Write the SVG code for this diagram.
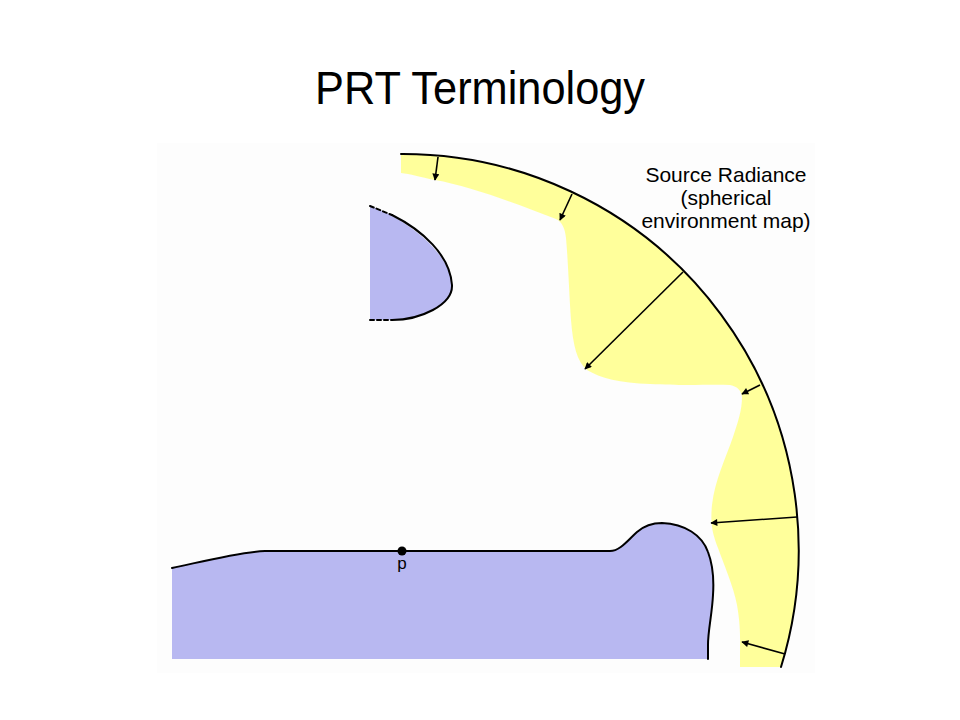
<svg xmlns="http://www.w3.org/2000/svg" width="960" height="720" viewBox="0 0 960 720">
<defs>
<style>
.t{font-family:"Liberation Sans",Arial,sans-serif;fill:#000}
.edge{fill:none;stroke:#000;stroke-width:2;stroke-linecap:round;stroke-linejoin:round}
.arr{fill:none;stroke:#000;stroke-width:1.6;marker-end:url(#ah)}
.blue{fill:#b8b8f1}
.yellow{fill:#ffff9b}
</style>
<marker id="ah" viewBox="0 0 10 10" refX="9" refY="5" markerWidth="8" markerHeight="7" orient="auto" markerUnits="userSpaceOnUse">
<path d="M0,0 L10,5 L0,10 Z" fill="#000"/>
</marker>
</defs>
<rect width="960" height="720" fill="#fff"/>
<rect x="157" y="143" width="658" height="530" fill="#fdfdfd"/>
<text class="t" x="480" y="104" font-size="46" text-anchor="middle" textLength="330" lengthAdjust="spacingAndGlyphs">PRT Terminology</text>

<g id="source-radiance">
<path class="yellow" d="M401,154 A396,396 0 0 1 781,667 L740,667 L740,657 C740,640 741,628 737,605 C733,585 724,565 718,548 C713,535 710,525 712,505 C715,480 725,460 733,437 C738,422 742,410 742,397 C741,390 738,387 730,385 C710,384 690,386 650,384 C620,383 600,378 587,370 C577,362 573,345 571,320 C569,290 568,260 566,238 C565,228 562,222 556,219 C520,205 470,186 435,180 C420,177 410,174 401,173 Z"/>
<path class="edge" d="M401,154 A396,396 0 0 1 781,667"/>
<text class="t" font-size="21" text-anchor="middle"><tspan x="726" y="182">Source Radiance</tspan><tspan x="726" y="205">(spherical</tspan><tspan x="726" y="228">environment map)</tspan></text>
</g>

<g id="occluder">
<path class="blue" d="M370,206 C400,216 450,250 452,285 C453,305 420,320 392,320 L370,320 Z"/>
<path class="edge" d="M392,215 C422,230 450,255 452,285 C453,305 420,320 392,320"/>
<path class="edge" d="M370,206 L392,215 M370,320 L392,320" stroke-dasharray="4 3" stroke-linecap="butt"/>
</g>

<g id="surface">
<path class="blue" d="M172,568 C205,561 240,552 265,551 L610,551 C620,551 628,540 637,532 C645,525 652,523 662,523 C685,524 702,535 708,552 C713,565 714,580 713,595 C712,615 708,630 708,645 L708,659 L172,659 Z"/>
<path class="edge" d="M172,568 C205,561 240,552 265,551 L610,551 C620,551 628,540 637,532 C645,525 652,523 662,523 C685,524 702,535 708,552 C713,565 714,580 713,595 C712,615 708,630 708,645 L708,659"/>
</g>

<g id="point-p">
<circle cx="402" cy="551" r="4.5" fill="#000"/>
<text class="t" x="402" y="569" font-size="17" text-anchor="middle">p</text>
</g>

<g id="connectors">
<line class="arr" x1="438" y1="157" x2="435" y2="180"/>
<line class="arr" x1="572" y1="194" x2="560" y2="220"/>
<line class="arr" x1="683" y1="272" x2="585" y2="369"/>
<line class="arr" x1="760" y1="385" x2="742" y2="394"/>
<line class="arr" x1="797" y1="517" x2="711" y2="523"/>
<line class="arr" x1="785" y1="654" x2="742" y2="642"/>
</g>
</svg>
